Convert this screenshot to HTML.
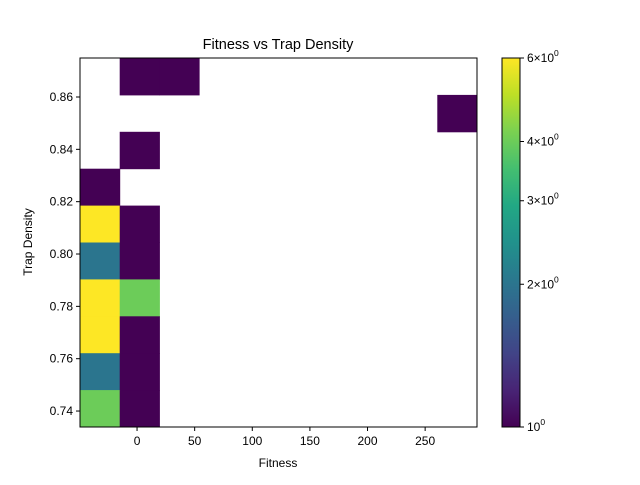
<!DOCTYPE html>
<html><head><meta charset="utf-8"><style>
body{margin:0;background:#fff;}
svg text{font-family:"Liberation Sans","DejaVu Sans",sans-serif;fill:#000;}
</style></head><body>
<svg id="chart" width="640" height="480" xmlns="http://www.w3.org/2000/svg">
<defs>
<linearGradient id="vir" x1="0" y1="1" x2="0" y2="0">
<stop offset="0" stop-color="#440154"/><stop offset="0.1" stop-color="#482475"/>
<stop offset="0.2" stop-color="#414487"/><stop offset="0.3" stop-color="#355f8d"/>
<stop offset="0.4" stop-color="#2a788e"/><stop offset="0.5" stop-color="#21918c"/>
<stop offset="0.6" stop-color="#22a884"/><stop offset="0.7" stop-color="#44bf70"/>
<stop offset="0.8" stop-color="#7ad151"/><stop offset="0.9" stop-color="#bddf26"/>
<stop offset="1" stop-color="#fde725"/>
</linearGradient>
</defs>
<text x="278" y="49" font-size="14.5" text-anchor="middle">Fitness vs Trap Density</text>
<g id="cells"></g>
<rect x="80" y="58" width="397" height="369" fill="none" stroke="#000" stroke-width="1"/>
<g id="axes"></g>
<text x="278" y="467" font-size="12" text-anchor="middle">Fitness</text>
<text x="32" y="242" font-size="12" text-anchor="middle" transform="rotate(-90 32 242)">Trap Density</text>
<rect x="502" y="58" width="18" height="369" fill="url(#vir)" stroke="#000" stroke-width="1"/>
<g id="cbar"></g>
</svg>
<script>
const xTicks=[0,50,100,150,200,250];
const yTicks=[0.74,0.76,0.78,0.80,0.82,0.84,0.86];
const cellXBin=[1,2,9,1,0,0,1,0,1,0,1,0,1,0,1,0,1];
const cellYBin=[0,0,1,2,3,4,4,5,5,6,6,7,7,8,8,9,9];
const cellCount=[1,1,1,1,1,6,1,2,1,6,4,6,1,2,1,4,1];
const cbTicks=[1,2,3,4,6];
const cbLabels=["10","2×10","3×10","4×10","6×10"];

const X0=80,X1=477,Y0=58,Y1=427;
const xMin=-49.5,xMax=295,yMin=0.7339,yMax=0.8749,nBins=10,cMin=1,cMax=6;
const sx=v=>X0+(v-xMin)/(xMax-xMin)*(X1-X0);
const sy=v=>Y1-(v-yMin)/(yMax-yMin)*(Y1-Y0);
const cy=v=>Y1-Math.log(v/cMin)/Math.log(cMax/cMin)*(Y1-Y0);
const NS="http://www.w3.org/2000/svg";
const vir=[[68,1,84],[72,36,117],[65,68,135],[53,95,141],[42,120,142],[33,145,140],[34,168,132],[68,191,112],[122,209,81],[189,223,38],[253,231,37]];
function color(c){let t=Math.log(c/cMin)/Math.log(cMax/cMin)*10;let i=Math.min(9,Math.floor(t)),f=t-i;
 const a=vir[i],b=vir[i+1];return `rgb(${a.map((v,k)=>Math.round(v+(b[k]-v)*f)).join(',')})`;}
function mk(tag,attrs,parent){const e=document.createElementNS(NS,tag);for(const k in attrs)e.setAttribute(k,attrs[k]);parent.appendChild(e);return e;}
const cells=document.getElementById('cells');
const bw=(xMax-xMin)/nBins,bh=(yMax-yMin)/nBins;
cellCount.forEach((c,i)=>{
 const xa=xMin+cellXBin[i]*bw, ya=yMax-cellYBin[i]*bh;
 const r=mk('rect',{x:sx(xa),y:sy(ya),width:sx(xa+bw)-sx(xa)+0.5,height:sy(ya-bh)-sy(ya)+0.5,fill:color(c)},cells);
 
 
});
const axes=document.getElementById('axes');
xTicks.forEach(v=>{const x=sx(v);
 const l=mk('line',{x1:x,x2:x,y1:Y1,y2:Y1+4,stroke:'#000'},axes);
 
 
 const t=mk('text',{x:x,y:Y1+18,'font-size':12,'text-anchor':'middle'},axes);t.textContent=v;
 
 });
yTicks.forEach(v=>{const y=sy(v);
 const l=mk('line',{x1:X0-4,x2:X0,y1:y,y2:y,stroke:'#000'},axes);
 
 
 const t=mk('text',{x:X0-7,y:y+4,'font-size':12,'text-anchor':'end'},axes);t.textContent=v.toFixed(2);
 
 });
const cb=document.getElementById('cbar');
cbTicks.forEach((v,i)=>{const y=cy(v);
 const l=mk('line',{x1:520,x2:524,y1:y,y2:y,stroke:'#000'},cb);
 
 
 const t=mk('text',{x:527,y:y+4,'font-size':12},cb);
 t.textContent=cbLabels[i];
 const s=mk('tspan',{dy:-6,'font-size':8.5},t);s.textContent='0';
 
 });
</script>
</body></html>
